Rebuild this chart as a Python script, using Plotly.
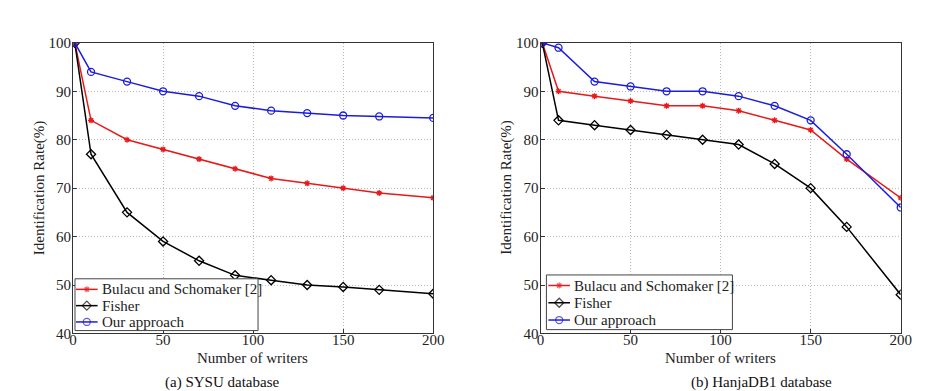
import plotly.graph_objects as go

writers = [1, 10, 30, 50, 70, 90, 110, 130, 150, 170, 200]

sysu_bulacu = [100, 84, 80, 78, 76, 74, 72, 71, 70, 69, 68]
sysu_fisher = [100, 77, 65, 59, 55, 52, 51, 50, 49.6, 49, 48.2]
sysu_ours = [100, 94, 92, 90, 89, 87, 86, 85.5, 85, 84.8, 84.5]

hanja_bulacu = [100, 90, 89, 88, 87, 87, 86, 84, 82, 76, 68]
hanja_fisher = [100, 84, 83, 82, 81, 80, 79, 75, 70, 62, 48]
hanja_ours = [100, 99, 92, 91, 90, 90, 89, 87, 84, 77, 66]

series_names = ["Bulacu and Schomaker [2]", "Fisher", "Our approach"]
x_ticks = [0, 50, 100, 150, 200]
y_ticks = [40, 50, 60, 70, 80, 90, 100]
captions = ["(a) SYSU database", "(b) HanjaDB1 database"]
x_title = "Number of writers"
y_title = "Identification Rate(%)"

W, H = 948, 391
FONT = "Liberation Serif, Times New Roman, serif"

styles = [
    dict(color="#e8191b", symbol="asterisk-open", size=5),
    dict(color="#000000", symbol="diamond-open", size=7),
    dict(color="#1c1cdc", symbol="circle-open", size=7),
]

fig = go.Figure()

panels = [
    ("x", "y", [sysu_bulacu, sysu_fisher, sysu_ours]),
    ("x2", "y2", [hanja_bulacu, hanja_fisher, hanja_ours]),
]
for xa, ya, data in panels:
    for name, vals, st in zip(series_names, data, styles):
        fig.add_trace(go.Scatter(
            x=writers, y=vals, name=name, mode="lines+markers",
            xaxis=xa, yaxis=ya, showlegend=False,
            line=dict(color=st["color"], width=1.5),
            marker=dict(symbol=st["symbol"], size=st["size"], color=st["color"],
                        line=dict(color=st["color"], width=1.3)),
        ))

# ---- legend boxes drawn in a pixel-space overlay subplot (x3/y3) ----
legend_boxes = [
    dict(left=64, right=250, top=274, bottom=328, rows=[285, 302, 319], l0=65, l1=87, tx=89),
    dict(left=543, right=732, top=270, bottom=327, rows=[281, 299, 317], l0=545, l1=567, tx=569),
]
for lb in legend_boxes:
    fig.add_trace(go.Scatter(
        x=[lb["left"], lb["right"], lb["right"], lb["left"], lb["left"]],
        y=[lb["top"], lb["top"], lb["bottom"], lb["bottom"], lb["top"]],
        mode="lines", fill="toself", fillcolor="white",
        line=dict(color="#444444", width=1),
        xaxis="x3", yaxis="y3", showlegend=False, hoverinfo="skip",
    ))
    for ry, name, st in zip(lb["rows"], series_names, styles):
        fig.add_trace(go.Scatter(
            x=[lb["l0"], (lb["l0"] + lb["l1"]) / 2, lb["l1"]], y=[ry, ry, ry],
            mode="lines+markers", xaxis="x3", yaxis="y3", showlegend=False,
            hoverinfo="skip",
            line=dict(color=st["color"], width=1.5),
            marker=dict(symbol=st["symbol"], size=[0, st["size"], 0], color=st["color"],
                        line=dict(color=st["color"], width=1.3)),
        ))
        fig.add_annotation(
            x=lb["tx"], y=ry, xref="x3", yref="y3", text=name, showarrow=False,
            xanchor="left", yanchor="middle",
            font=dict(family=FONT, size=15, color="#222222"),
        )


def px_x(p):
    return p / W


def px_y(p):
    return 1 - p / H


axis_common = dict(
    showline=True, linecolor="#333333", linewidth=1, mirror=True,
    ticks="inside", ticklen=4, tickcolor="#333333",
    showgrid=True, gridcolor="#b8b8b8", griddash="1px,2px", gridwidth=1,
    zeroline=False, tickfont=dict(family=FONT, size=15, color="#222222"),
)

x_dom = [(62, 428), (537, 903)]
y_dom = [px_y(331), px_y(28)]

layout = dict(
    width=W, height=H, margin=dict(l=0, r=0, t=0, b=0),
    paper_bgcolor="white", plot_bgcolor="rgba(0,0,0,0)",
    font=dict(family=FONT, size=15, color="#222222"),
    showlegend=False,
    xaxis3=dict(domain=[0, 1], range=[0, W], visible=False, fixedrange=True, anchor="y3"),
    yaxis3=dict(domain=[0, 1], range=[H, 0], visible=False, fixedrange=True, anchor="x3"),
)
for i, (a, b) in enumerate(x_dom):
    sfx = "" if i == 0 else "2"
    layout["xaxis" + sfx] = dict(
        axis_common, domain=[px_x(a), px_x(b)], range=[0, 200],
        tickvals=x_ticks, anchor="y" + sfx, ticklabelstandoff=-7,
    )
    layout["yaxis" + sfx] = dict(
        axis_common, domain=y_dom, range=[40, 100],
        tickvals=y_ticks, anchor="x" + sfx, ticklabelstandoff=-2,
    )

fig.update_layout(**layout)

caption_x = [213, 762]
x_title_x = [244, 720]
y_title_x = [28, 503]
for i in range(2):
    fig.add_annotation(
        x=px_x(caption_x[i]), y=px_y(382), xref="paper", yref="paper",
        text=captions[i], showarrow=False, xanchor="center", yanchor="middle",
        font=dict(family=FONT, size=15, color="#111111"),
    )
    fig.add_annotation(
        x=px_x(x_title_x[i]), y=px_y(357), xref="paper", yref="paper",
        text=x_title, showarrow=False, xanchor="center", yanchor="middle",
        font=dict(family=FONT, size=15, color="#222222"),
    )
    fig.add_annotation(
        x=px_x(y_title_x[i]), y=px_y(179), xref="paper", yref="paper",
        text=y_title, showarrow=False, xanchor="center", yanchor="middle",
        textangle=-90, font=dict(family=FONT, size=15, color="#222222"),
    )

fig.write_html("out.html")
